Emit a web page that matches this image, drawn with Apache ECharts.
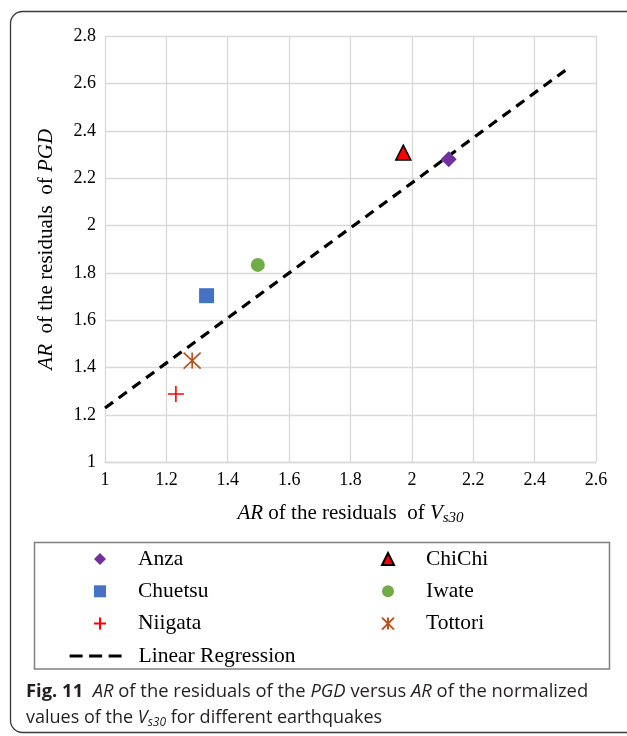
<!DOCTYPE html>
<html>
<head>
<meta charset="utf-8">
<script src="https://cdn.jsdelivr.net/npm/echarts@6/dist/echarts.min.js"></script>
<style>
  html, body { margin: 0; padding: 0; background: #fff; }
  #chart { width: 627px; height: 736px; }
</style>
</head>
<body>
<div id="chart"></div>
<script>
// earthquakes, AR of Vs30 residuals (x) and AR of PGD residuals (y)
const quakes = ['Anza', 'ChiChi', 'Chuetsu', 'Iwate', 'Niigata', 'Tottori']
const arVs30 = [2.12, 1.972, 1.331, 1.498, 1.231, 1.284]
const arPgd = [2.28, 2.308, 1.704, 1.834, 1.289, 1.43]
// linear regression end points
const regX = [1, 2.5]
const regY = [1.23, 2.655]

const serif = 'Liberation Serif'
const plusPath = 'path://M5,0L5,10M0,5L10,5'
const starPath = 'path://M0,0L10,10M10,0L0,10M5,0L5,10'

// look of each marker
const markers = {
  Anza: { symbol: 'diamond', size: 16, itemStyle: { color: '#7030a0', opacity: 1 } },
  ChiChi: { symbol: 'triangle', size: 15, itemStyle: { color: '#ff0000', borderColor: '#000', borderWidth: 1.5, opacity: 1 } },
  Chuetsu: { symbol: 'rect', size: 15, itemStyle: { color: '#4472c4', opacity: 1 } },
  Iwate: { symbol: 'circle', size: 14, itemStyle: { color: '#70ad47', opacity: 1 } },
  Niigata: { symbol: plusPath, size: 16, itemStyle: { color: '#ff0000', borderColor: '#ff0000', borderWidth: 1.6, opacity: 1 } },
  Tottori: { symbol: starPath, size: [17, 16], itemStyle: { color: '#b8541a', borderColor: '#b8541a', borderWidth: 1.6, opacity: 1 } }
}

const series = quakes.map((name, i) => ({
  name: name,
  type: 'scatter',
  symbol: markers[name].symbol,
  symbolSize: markers[name].size,
  itemStyle: markers[name].itemStyle,
  data: [[arVs30[i], arPgd[i]]],
  z: 3
}))
series.push({
  name: 'Linear Regression',
  type: 'line',
  showSymbol: false,
  symbol: 'none',
  lineStyle: { color: '#000', width: 3.2, type: [10, 7] },
  itemStyle: { color: '#000' },
  data: regX.map((x, i) => [x, regY[i]]),
  z: 2
})

const legendText = { fontFamily: serif, fontSize: 21.5, color: '#000', lineHeight: 20, padding: [0, 0, 0, 27] }
const tickText = { fontFamily: serif, fontSize: 18, color: '#000', margin: 9 }

const option = {
  backgroundColor: '#fff',
  animation: false,
  textStyle: { fontFamily: serif },
  grid: { left: 105, right: 31, top: 36, bottom: 273.5 },
  xAxis: {
    type: 'value',
    min: 1,
    max: 2.6,
    interval: 0.2,
    axisLine: { lineStyle: { color: '#d9d9d9', width: 1.3 } },
    axisTick: { show: false },
    axisLabel: tickText,
    splitLine: { lineStyle: { color: '#d9d9d9', width: 1.3 } },
    name: '{i|AR} of the residuals  of {i|V}{s|s30}',
    nameLocation: 'middle',
    nameGap: 39,
    nameTextStyle: {
      fontFamily: serif,
      fontSize: 21,
      color: '#000',
      rich: {
        i: { fontFamily: serif, fontSize: 21, fontStyle: 'italic', color: '#000' },
        s: { fontFamily: serif, fontSize: 15, fontStyle: 'italic', color: '#000', padding: [9, 0, 0, 0] }
      }
    }
  },
  yAxis: {
    type: 'value',
    min: 1,
    max: 2.8,
    interval: 0.2,
    axisLine: { show: false },
    axisTick: { show: false },
    axisLabel: tickText,
    splitLine: { lineStyle: { color: '#d9d9d9', width: 1.3 } },
    name: '{i|AR}  of the residuals  of {i|PGD}',
    nameLocation: 'middle',
    nameGap: 48,
    nameTextStyle: {
      fontFamily: serif,
      fontSize: 21,
      color: '#000',
      rich: {
        i: { fontFamily: serif, fontSize: 21, fontStyle: 'italic', color: '#000' }
      }
    }
  },
  legend: [
    {
      data: ['Anza', 'Chuetsu', 'Niigata'],
      orient: 'vertical',
      left: 93,
      top: 548,
      padding: 0,
      itemWidth: 12,
      itemHeight: 12,
      itemGap: 10.3,
      selectedMode: false,
      textStyle: legendText
    },
    {
      data: ['ChiChi', 'Iwate', 'Tottori'],
      orient: 'vertical',
      left: 381,
      top: 548,
      padding: 0,
      itemWidth: 12,
      itemHeight: 12,
      itemGap: 10.3,
      selectedMode: false,
      textStyle: legendText
    },
    {
      data: ['Linear Regression'],
      left: 68,
      top: 645,
      padding: 0,
      itemWidth: 52,
      itemHeight: 12,
      selectedMode: false,
      lineStyle: { color: '#000', width: 3.2, type: [13, 6.5] },
      itemStyle: { color: 'rgba(0,0,0,0)', borderColor: 'rgba(0,0,0,0)', borderWidth: 0 },
      textStyle: Object.assign({}, legendText, { padding: [0, 0, 0, 12] })
    }
  ],
  graphic: [
    {
      type: 'rect',
      silent: true,
      shape: { x: 10.5, y: 11.5, width: 700, height: 721, r: 12 },
      style: { fill: 'none', stroke: '#3a3a3a', lineWidth: 1.3 }
    },
    {
      type: 'rect',
      silent: true,
      shape: { x: 34.5, y: 542.5, width: 575, height: 126.5 },
      style: { fill: 'none', stroke: '#808080', lineWidth: 1.5 }
    },
    {
      type: 'text',
      left: 26,
      top: 683,
      style: {
        text: '{b|Fig. 11}  {i|AR} of the residuals of the {i|PGD} versus {i|AR} of the normalized',
        fontFamily: 'Open Sans',
        fontSize: 18.4,
        fill: '#231f20',
        rich: {
          b: { fontFamily: 'Open Sans', fontSize: 18.4, fontWeight: 'bold', fill: '#231f20' },
          i: { fontFamily: 'Open Sans', fontSize: 18.4, fontStyle: 'italic', fill: '#231f20' }
        }
      }
    },
    {
      type: 'text',
      left: 26,
      top: 709,
      style: {
        text: 'values of the {i|V}{s|s30} for different earthquakes',
        fontFamily: 'Open Sans',
        fontSize: 18,
        fill: '#231f20',
        rich: {
          i: { fontFamily: 'Open Sans', fontSize: 18, fontStyle: 'italic', fill: '#231f20' },
          s: { fontFamily: 'Open Sans', fontSize: 12, fontStyle: 'italic', fill: '#231f20', padding: [9, 0, 0, 0] }
        }
      }
    }
  ],
  series: series
}

const chart = echarts.init(document.getElementById('chart'))
chart.setOption(option)
</script>
</body>
</html>
